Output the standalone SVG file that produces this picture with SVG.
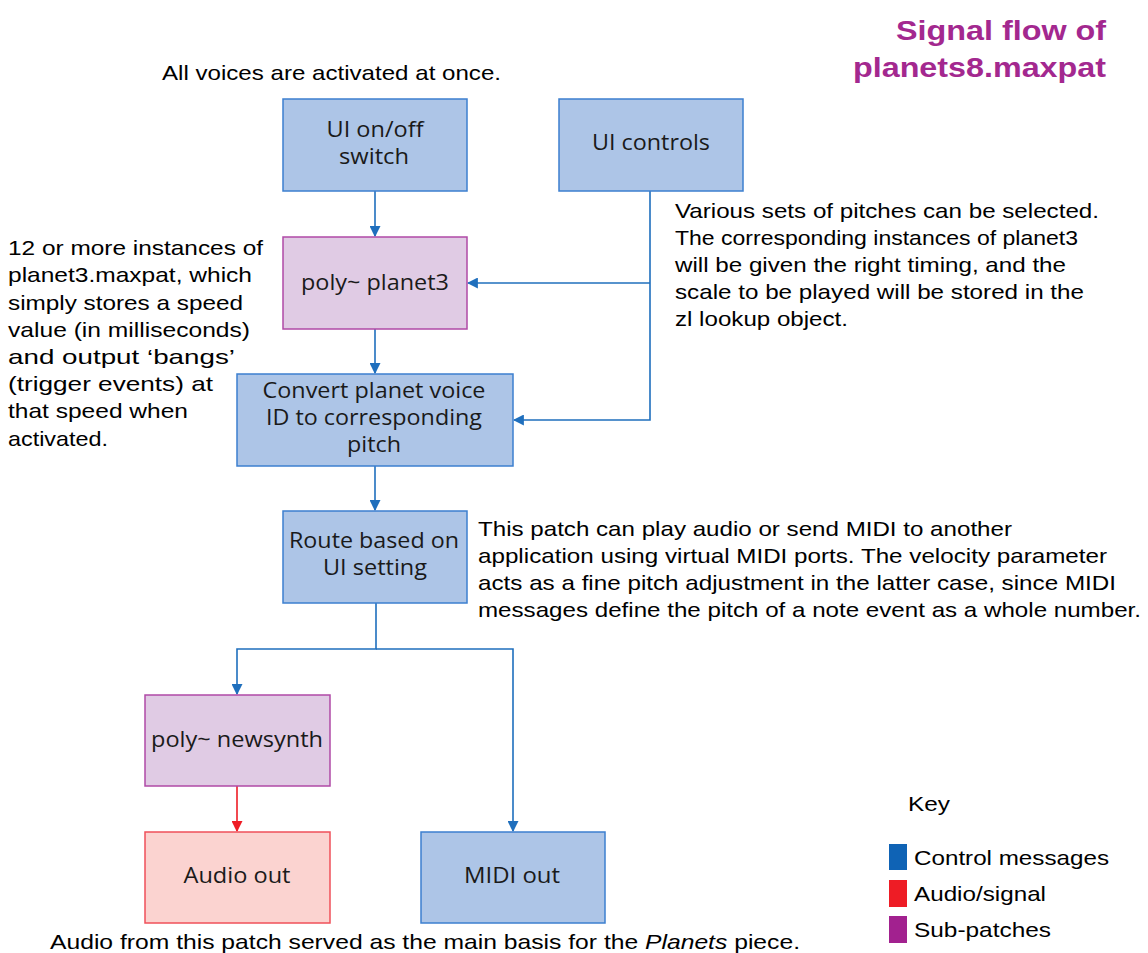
<svg xmlns="http://www.w3.org/2000/svg" width="1148" height="953" viewBox="0 0 1148 953">
<defs>
<marker id="ab" viewBox="0 0 10 10" refX="9" refY="5" markerWidth="11" markerHeight="11" markerUnits="userSpaceOnUse" orient="auto"><path d="M0,0 L10,5 L0,10 z" fill="#1f6fbd"/></marker>
<marker id="ar" viewBox="0 0 10 10" refX="9" refY="5" markerWidth="11" markerHeight="11" markerUnits="userSpaceOnUse" orient="auto"><path d="M0,0 L10,5 L0,10 z" fill="#ee1c25"/></marker>
<style>
.bl{fill:#adc5e7;stroke:#3c7fcf;stroke-width:1.5}
.pu{fill:#e0cbe4;stroke:#b04aa6;stroke-width:1.5}
.rd{fill:#fbd3d0;stroke:#f0505a;stroke-width:1.5}
.bt{font-family:"Open Sans","Noto Sans",sans-serif;font-size:21px;fill:#1a1a1a;text-anchor:middle}
.an{font-family:"Liberation Sans",Arial,sans-serif;font-size:21px;fill:#000}
.cb{fill:none;stroke:#1f6fbd;stroke-width:1.6}
.cr{fill:none;stroke:#ee1c25;stroke-width:1.6}
.ti{font-family:"Liberation Sans",Arial,sans-serif;font-size:28px;font-weight:bold;fill:#a3288f;text-anchor:end}
</style>
</defs>
<rect width="1148" height="953" fill="#fff"/>
<g id="title"><text class="ti" x="1106" y="40" textLength="210" lengthAdjust="spacingAndGlyphs">Signal flow of</text><text class="ti" x="1106" y="77" textLength="253" lengthAdjust="spacingAndGlyphs">planets8.maxpat</text></g>
<g id="connectors">
<path class="cb" d="M375,191 V236" marker-end="url(#ab)"/>
<path class="cb" d="M650,191 V420 H514" marker-end="url(#ab)"/>
<path class="cb" d="M650,283 H468" marker-end="url(#ab)"/>
<path class="cb" d="M375,329 V373" marker-end="url(#ab)"/>
<path class="cb" d="M375,466 V510" marker-end="url(#ab)"/>
<path class="cb" d="M376,603 V649 H237 V694" marker-end="url(#ab)"/>
<path class="cb" d="M376,649 H513 V831" marker-end="url(#ab)"/>
<path class="cr" d="M237,786 V831" marker-end="url(#ar)"/>
</g>
<g id="n-onoff"><rect class="bl" x="283" y="99" width="184" height="92"/><text class="bt" x="375" y="137" textLength="97" lengthAdjust="spacingAndGlyphs">UI on/off</text><text class="bt" x="374" y="164" textLength="70" lengthAdjust="spacingAndGlyphs">switch</text></g>
<g id="n-controls"><rect class="bl" x="559" y="99" width="184" height="92"/><text class="bt" x="651" y="150" textLength="118" lengthAdjust="spacingAndGlyphs">UI controls</text></g>
<g id="n-planet3"><rect class="pu" x="283" y="237" width="184" height="92"/><text class="bt" x="375" y="290" textLength="148" lengthAdjust="spacingAndGlyphs">poly~ planet3</text></g>
<g id="n-convert"><rect class="bl" x="237" y="374" width="276" height="92"/><text class="bt" x="374" y="398" textLength="223" lengthAdjust="spacingAndGlyphs">Convert planet voice</text><text class="bt" x="374" y="425" textLength="216" lengthAdjust="spacingAndGlyphs">ID to corresponding</text><text class="bt" x="374" y="452" textLength="54" lengthAdjust="spacingAndGlyphs">pitch</text></g>
<g id="n-route"><rect class="bl" x="283" y="511" width="184" height="92"/><text class="bt" x="374" y="548" textLength="170" lengthAdjust="spacingAndGlyphs">Route based on</text><text class="bt" x="375" y="575" textLength="104" lengthAdjust="spacingAndGlyphs">UI setting</text></g>
<g id="n-newsynth"><rect class="pu" x="145" y="695" width="185" height="91"/><text class="bt" x="237" y="747" textLength="172" lengthAdjust="spacingAndGlyphs">poly~ newsynth</text></g>
<g id="n-audio"><rect class="rd" x="145" y="832" width="185" height="91"/><text class="bt" x="237" y="883" textLength="107" lengthAdjust="spacingAndGlyphs">Audio out</text></g>
<g id="n-midi"><rect class="bl" x="421" y="832" width="184" height="91"/><text class="bt" x="512" y="883" textLength="96" lengthAdjust="spacingAndGlyphs">MIDI out</text></g>
<g id="notes">
<text class="an" x="162" y="80" textLength="339" lengthAdjust="spacingAndGlyphs">All voices are activated at once.</text>
<text class="an" x="8" y="255" textLength="255" lengthAdjust="spacingAndGlyphs">12 or more instances of</text>
<text class="an" x="8" y="282" textLength="244" lengthAdjust="spacingAndGlyphs">planet3.maxpat, which</text>
<text class="an" x="8" y="310" textLength="235" lengthAdjust="spacingAndGlyphs">simply stores a speed</text>
<text class="an" x="8" y="337" textLength="242" lengthAdjust="spacingAndGlyphs">value (in milliseconds)</text>
<text class="an" x="8" y="364" textLength="227" lengthAdjust="spacingAndGlyphs">and output ‘bangs’</text>
<text class="an" x="8" y="391" textLength="205" lengthAdjust="spacingAndGlyphs">(trigger events) at</text>
<text class="an" x="8" y="418" textLength="180" lengthAdjust="spacingAndGlyphs">that speed when</text>
<text class="an" x="8" y="446" textLength="100" lengthAdjust="spacingAndGlyphs">activated.</text>
<text class="an" x="675" y="218" textLength="424" lengthAdjust="spacingAndGlyphs">Various sets of pitches can be selected.</text>
<text class="an" x="675" y="245" textLength="403" lengthAdjust="spacingAndGlyphs">The corresponding instances of planet3</text>
<text class="an" x="675" y="272" textLength="391" lengthAdjust="spacingAndGlyphs">will be given the right timing, and the</text>
<text class="an" x="675" y="299" textLength="409" lengthAdjust="spacingAndGlyphs">scale to be played will be stored in the</text>
<text class="an" x="675" y="326" textLength="173" lengthAdjust="spacingAndGlyphs">zl lookup object.</text>
<text class="an" x="478" y="536" textLength="534" lengthAdjust="spacingAndGlyphs">This patch can play audio or send MIDI to another</text>
<text class="an" x="478" y="563" textLength="629" lengthAdjust="spacingAndGlyphs">application using virtual MIDI ports. The velocity parameter</text>
<text class="an" x="478" y="590" textLength="638" lengthAdjust="spacingAndGlyphs">acts as a fine pitch adjustment in the latter case, since MIDI</text>
<text class="an" x="478" y="617" textLength="663" lengthAdjust="spacingAndGlyphs">messages define the pitch of a note event as a whole number.</text>
<text class="an" x="50" y="949" textLength="750" lengthAdjust="spacingAndGlyphs">Audio from this patch served as the main basis for the <tspan font-style="italic">Planets</tspan> piece.</text>
</g>
<g id="key">
<text class="an" x="908" y="811" textLength="42" lengthAdjust="spacingAndGlyphs">Key</text>
<rect x="889" y="844" width="18" height="26" fill="#0f63b5"/>
<rect x="889" y="880" width="18" height="27" fill="#ee1c25"/>
<rect x="889" y="916" width="18" height="27" fill="#a2218f"/>
<text class="an" x="914" y="865" textLength="195" lengthAdjust="spacingAndGlyphs">Control messages</text>
<text class="an" x="914" y="901" textLength="132" lengthAdjust="spacingAndGlyphs">Audio/signal</text>
<text class="an" x="914" y="937" textLength="137" lengthAdjust="spacingAndGlyphs">Sub-patches</text>
</g>
</svg>
